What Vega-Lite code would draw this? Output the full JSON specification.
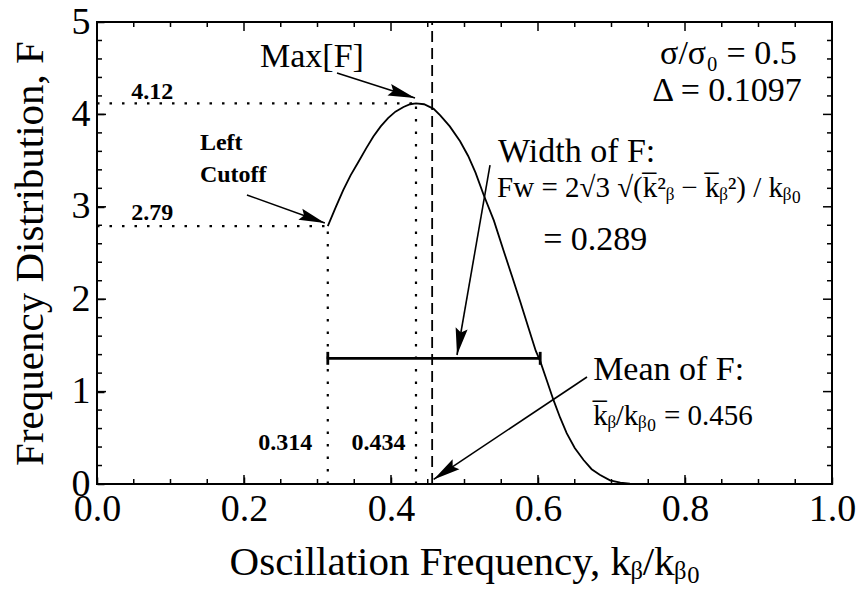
{
  "$schema": "https://vega.github.io/schema/vega-lite/v6.json",
  "width": 735,
  "height": 462,
  "autosize": {"type": "none"},
  "padding": {"left": 97, "top": 22, "right": 28, "bottom": 113},
  "background": "white",
  "config": {
    "view": {"stroke": "#000", "strokeWidth": 2},
    "axis": {"domain": false, "grid": false, "labelColor": "#000", "titleColor": "#000", "labelFont": "Liberation Serif", "titleFont": "Liberation Serif", "labelFontSize": 38, "titleFontSize": 41, "titleFontWeight": "normal", "labelFlush": false, "labelOverlap": false},
    "text": {"font": "Liberation Serif", "color": "#000"}
  },
  "datasets": {
    "curve": [
      {"x": 0.314, "y": 2.79}, {"x": 0.325, "y": 3.0}, {"x": 0.335, "y": 3.18}, {"x": 0.345, "y": 3.34},
      {"x": 0.356, "y": 3.49}, {"x": 0.366, "y": 3.63}, {"x": 0.376, "y": 3.76}, {"x": 0.386, "y": 3.87},
      {"x": 0.396, "y": 3.96}, {"x": 0.406, "y": 4.03}, {"x": 0.417, "y": 4.08}, {"x": 0.426, "y": 4.11},
      {"x": 0.434, "y": 4.12}, {"x": 0.445, "y": 4.11}, {"x": 0.458, "y": 4.06}, {"x": 0.467, "y": 3.99},
      {"x": 0.48, "y": 3.87}, {"x": 0.494, "y": 3.71}, {"x": 0.505, "y": 3.55}, {"x": 0.515, "y": 3.37},
      {"x": 0.526, "y": 3.13}, {"x": 0.54, "y": 2.85}, {"x": 0.553, "y": 2.53}, {"x": 0.565, "y": 2.24},
      {"x": 0.576, "y": 1.97}, {"x": 0.587, "y": 1.69}, {"x": 0.597, "y": 1.44}, {"x": 0.603, "y": 1.33},
      {"x": 0.612, "y": 1.12}, {"x": 0.621, "y": 0.91}, {"x": 0.63, "y": 0.72}, {"x": 0.639, "y": 0.55},
      {"x": 0.65, "y": 0.39}, {"x": 0.662, "y": 0.26}, {"x": 0.673, "y": 0.16}, {"x": 0.684, "y": 0.1},
      {"x": 0.698, "y": 0.04}, {"x": 0.712, "y": 0.015}, {"x": 0.725, "y": 0.003}, {"x": 0.75, "y": 0}
    ],
    "xminor": [
      {"v": 0.05}, {"v": 0.1}, {"v": 0.15}, {"v": 0.25}, {"v": 0.3}, {"v": 0.35}, {"v": 0.45}, {"v": 0.5},
      {"v": 0.55}, {"v": 0.65}, {"v": 0.7}, {"v": 0.75}, {"v": 0.85}, {"v": 0.9}, {"v": 0.95}
    ],
    "xmajor": [{"v": 0.2}, {"v": 0.4}, {"v": 0.6}, {"v": 0.8}],
    "yminor": [
      {"v": 0.2}, {"v": 0.4}, {"v": 0.6}, {"v": 0.8}, {"v": 1.2}, {"v": 1.4}, {"v": 1.6}, {"v": 1.8},
      {"v": 2.2}, {"v": 2.4}, {"v": 2.6}, {"v": 2.8}, {"v": 3.2}, {"v": 3.4}, {"v": 3.6}, {"v": 3.8},
      {"v": 4.2}, {"v": 4.4}, {"v": 4.6}, {"v": 4.8}
    ],
    "ymajor": [{"v": 1}, {"v": 2}, {"v": 3}, {"v": 4}],
    "dotted": [
      {"x": 0, "y": 4.12, "x2": 0.434, "y2": 4.12},
      {"x": 0, "y": 2.79, "x2": 0.314, "y2": 2.79},
      {"x": 0.314, "y": 0, "x2": 0.314, "y2": 2.79},
      {"x": 0.434, "y": 0, "x2": 0.434, "y2": 4.12}
    ],
    "dashed": [{"x": 0.456, "y": 0, "x2": 0.456, "y2": 5}],
    "bar": [
      {"x": 0.314, "y": 1.36, "x2": 0.603, "y2": 1.36},
      {"x": 0.603, "y": 1.29, "x2": 0.603, "y2": 1.43},
      {"x": 0.314, "y": 1.29, "x2": 0.314, "y2": 1.43}
    ],
    "shafts": [
      {"x": 0.3265, "y": 4.448, "x2": 0.4327, "y2": 4.177},
      {"x": 0.204, "y": 3.128, "x2": 0.31, "y2": 2.825},
      {"x": 0.5347, "y": 3.452, "x2": 0.4898, "y2": 1.396},
      {"x": 0.6667, "y": 1.158, "x2": 0.458, "y2": 0.05}
    ],
    "numlabels": [
      {"x": 0.075, "y": 4.165, "text": "4.12"},
      {"x": 0.075, "y": 2.855, "text": "2.79"},
      {"x": 0.256, "y": 0.37, "text": "0.314"},
      {"x": 0.383, "y": 0.37, "text": "0.434"}
    ],
    "cutoff": [
      {"x": 0.14, "y": 3.615, "text": "Left"},
      {"x": 0.14, "y": 3.27, "text": "Cutoff"}
    ],
    "notes": [
      {"x": 0.2218, "y": 4.513, "text": "Max[F]"},
      {"x": 0.5456, "y": 3.485, "text": "Width of F:"},
      {"x": 0.607, "y": 2.532, "text": "= 0.289"},
      {"x": 0.675, "y": 1.126, "text": "Mean of F:"}
    ],
    "params": [
      {"x": 0.952, "y": 4.545, "text": "σ/σ₀ = 0.5"},
      {"x": 0.959, "y": 4.145, "text": "Δ = 0.1097"}
    ],
    "formulas": [
      {"x": 0.5443, "y": 3.106, "text": "Fw = 2√3 √(k̅²ᵦ − k̅ᵦ²) / kᵦ₀"},
      {"x": 0.675, "y": 0.64, "text": "k̅ᵦ/kᵦ₀ = 0.456"}
    ]
  },
  "layer": [
    {
      "data": {"name": "curve"},
      "mark": {"type": "line", "color": "#000", "strokeWidth": 1.8},
      "encoding": {
        "x": {"field": "x", "type": "quantitative", "scale": {"domain": [0, 1], "nice": false, "zero": false},
          "axis": {"orient": "bottom", "values": [0, 0.2, 0.4, 0.6, 0.8, 1], "format": ".1f", "ticks": true, "tickSize": -7, "tickColor": "#000", "tickWidth": 1.5, "labelPadding": 13, "title": "Oscillation Frequency, kᵦ/kᵦ₀", "titlePadding": 14}},
        "y": {"field": "y", "type": "quantitative", "scale": {"domain": [0, 5], "nice": false},
          "axis": {"orient": "left", "values": [0, 1, 2, 3, 4, 5], "format": "d", "ticks": true, "tickSize": -7, "tickColor": "#000", "tickWidth": 1.5, "labelPadding": 14, "title": "Frequency Distribution, F", "titlePadding": 20}}
      }
    },
    {
      "data": {"name": "xminor"},
      "mark": {"type": "tick", "orient": "vertical", "color": "#000", "opacity": 1, "size": 10, "thickness": 1.5, "clip": true},
      "encoding": {"x": {"field": "v", "type": "quantitative", "axis": null}, "y": {"datum": 0, "type": "quantitative", "axis": null}}
    },
    {
      "data": {"name": "xminor"},
      "mark": {"type": "tick", "orient": "vertical", "color": "#000", "opacity": 1, "size": 10, "thickness": 1.5, "clip": true},
      "encoding": {"x": {"field": "v", "type": "quantitative", "axis": null}, "y": {"datum": 5, "type": "quantitative", "axis": null}}
    },
    {
      "data": {"name": "xmajor"},
      "mark": {"type": "tick", "orient": "vertical", "color": "#000", "opacity": 1, "size": 18, "thickness": 1.5, "clip": true},
      "encoding": {"x": {"field": "v", "type": "quantitative", "axis": null}, "y": {"datum": 0, "type": "quantitative", "axis": null}}
    },
    {
      "data": {"name": "xmajor"},
      "mark": {"type": "tick", "orient": "vertical", "color": "#000", "opacity": 1, "size": 18, "thickness": 1.5, "clip": true},
      "encoding": {"x": {"field": "v", "type": "quantitative", "axis": null}, "y": {"datum": 5, "type": "quantitative", "axis": null}}
    },
    {
      "data": {"name": "yminor"},
      "mark": {"type": "tick", "orient": "horizontal", "color": "#000", "opacity": 1, "size": 10, "thickness": 1.5, "clip": true},
      "encoding": {"y": {"field": "v", "type": "quantitative", "axis": null}, "x": {"datum": 0, "type": "quantitative", "axis": null}}
    },
    {
      "data": {"name": "yminor"},
      "mark": {"type": "tick", "orient": "horizontal", "color": "#000", "opacity": 1, "size": 10, "thickness": 1.5, "clip": true},
      "encoding": {"y": {"field": "v", "type": "quantitative", "axis": null}, "x": {"datum": 1, "type": "quantitative", "axis": null}}
    },
    {
      "data": {"name": "ymajor"},
      "mark": {"type": "tick", "orient": "horizontal", "color": "#000", "opacity": 1, "size": 18, "thickness": 1.5, "clip": true},
      "encoding": {"y": {"field": "v", "type": "quantitative", "axis": null}, "x": {"datum": 0, "type": "quantitative", "axis": null}}
    },
    {
      "data": {"name": "ymajor"},
      "mark": {"type": "tick", "orient": "horizontal", "color": "#000", "opacity": 1, "size": 18, "thickness": 1.5, "clip": true},
      "encoding": {"y": {"field": "v", "type": "quantitative", "axis": null}, "x": {"datum": 1, "type": "quantitative", "axis": null}}
    },
    {
      "data": {"name": "dotted"},
      "mark": {"type": "rule", "color": "#000", "strokeWidth": 2.2, "strokeDash": [2.5, 10]},
      "encoding": {"x": {"field": "x", "type": "quantitative", "axis": null}, "y": {"field": "y", "type": "quantitative", "axis": null}, "x2": {"field": "x2"}, "y2": {"field": "y2"}}
    },
    {
      "data": {"name": "dashed"},
      "mark": {"type": "rule", "color": "#000", "strokeWidth": 1.8, "strokeDash": [11, 6]},
      "encoding": {"x": {"field": "x", "type": "quantitative", "axis": null}, "y": {"field": "y", "type": "quantitative", "axis": null}, "x2": {"field": "x2"}, "y2": {"field": "y2"}}
    },
    {
      "data": {"name": "bar"},
      "mark": {"type": "rule", "color": "#000", "strokeWidth": 2.8},
      "encoding": {"x": {"field": "x", "type": "quantitative", "axis": null}, "y": {"field": "y", "type": "quantitative", "axis": null}, "x2": {"field": "x2"}, "y2": {"field": "y2"}}
    },
    {
      "data": {"name": "shafts"},
      "mark": {"type": "rule", "color": "#000", "strokeWidth": 1.6},
      "encoding": {"x": {"field": "x", "type": "quantitative", "axis": null}, "y": {"field": "y", "type": "quantitative", "axis": null}, "x2": {"field": "x2"}, "y2": {"field": "y2"}}
    },
    {
      "data": {"values": [{"x": 0.4327, "y": 4.177}]},
      "mark": {"type": "point", "shape": "M0,0 L0.45,2 L0,1.7 L-0.45,2 Z", "filled": true, "color": "#000", "opacity": 1, "size": 729, "angle": 107.8},
      "encoding": {"x": {"field": "x", "type": "quantitative", "axis": null}, "y": {"field": "y", "type": "quantitative", "axis": null}}
    },
    {
      "data": {"values": [{"x": 0.31, "y": 2.825}]},
      "mark": {"type": "point", "shape": "M0,0 L0.45,2 L0,1.7 L-0.45,2 Z", "filled": true, "color": "#000", "opacity": 1, "size": 676, "angle": 109.75},
      "encoding": {"x": {"field": "x", "type": "quantitative", "axis": null}, "y": {"field": "y", "type": "quantitative", "axis": null}}
    },
    {
      "data": {"values": [{"x": 0.4898, "y": 1.396}]},
      "mark": {"type": "point", "shape": "M0,0 L0.45,2 L0,1.7 L-0.45,2 Z", "filled": true, "color": "#000", "opacity": 1, "size": 729, "angle": 189.85},
      "encoding": {"x": {"field": "x", "type": "quantitative", "axis": null}, "y": {"field": "y", "type": "quantitative", "axis": null}}
    },
    {
      "data": {"values": [{"x": 0.458, "y": 0.05}]},
      "mark": {"type": "point", "shape": "M0,0 L0.45,2 L0,1.7 L-0.45,2 Z", "filled": true, "color": "#000", "opacity": 1, "size": 729, "angle": 236.04},
      "encoding": {"x": {"field": "x", "type": "quantitative", "axis": null}, "y": {"field": "y", "type": "quantitative", "axis": null}}
    },
    {
      "data": {"name": "numlabels"},
      "mark": {"type": "text", "fontSize": 24, "fontWeight": "bold", "align": "center", "baseline": "alphabetic"},
      "encoding": {"x": {"field": "x", "type": "quantitative", "axis": null}, "y": {"field": "y", "type": "quantitative", "axis": null}, "text": {"field": "text"}}
    },
    {
      "data": {"name": "cutoff"},
      "mark": {"type": "text", "fontSize": 24, "fontWeight": "bold", "align": "left", "baseline": "alphabetic"},
      "encoding": {"x": {"field": "x", "type": "quantitative", "axis": null}, "y": {"field": "y", "type": "quantitative", "axis": null}, "text": {"field": "text"}}
    },
    {
      "data": {"name": "notes"},
      "mark": {"type": "text", "fontSize": 34, "align": "left", "baseline": "alphabetic"},
      "encoding": {"x": {"field": "x", "type": "quantitative", "axis": null}, "y": {"field": "y", "type": "quantitative", "axis": null}, "text": {"field": "text"}}
    },
    {
      "data": {"name": "params"},
      "mark": {"type": "text", "fontSize": 34, "align": "right", "baseline": "alphabetic"},
      "encoding": {"x": {"field": "x", "type": "quantitative", "axis": null}, "y": {"field": "y", "type": "quantitative", "axis": null}, "text": {"field": "text"}}
    },
    {
      "data": {"name": "formulas"},
      "mark": {"type": "text", "fontSize": 29, "align": "left", "baseline": "alphabetic"},
      "encoding": {"x": {"field": "x", "type": "quantitative", "axis": null}, "y": {"field": "y", "type": "quantitative", "axis": null}, "text": {"field": "text"}}
    }
  ],
  "resolve": {"axis": {"x": "independent", "y": "independent"}}
}
